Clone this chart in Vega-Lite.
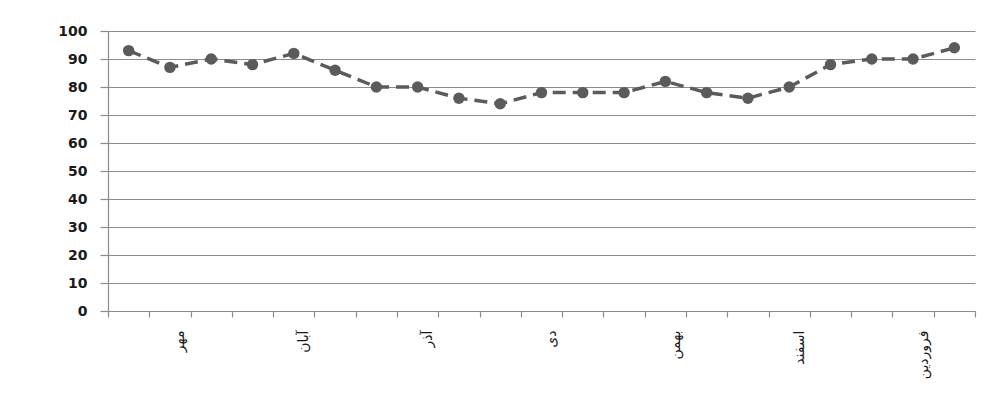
{
  "$schema": "https://vega.github.io/schema/vega-lite/v6.json",
  "autosize": "none",
  "width": 867,
  "height": 280,
  "padding": {"left": 108, "top": 31, "right": 22, "bottom": 94},
  "background": "white",
  "config": {
    "view": {"stroke": null},
    "axis": {"labelFont": "DejaVu Sans", "labelColor": "#1a1a1a", "domainColor": "#8c8c8c", "tickColor": "#8c8c8c", "gridColor": "#8c8c8c", "gridWidth": 1, "domainWidth": 1.2, "tickWidth": 1.2}
  },
  "data": {
    "values": [
      {"i": 0, "v": 93}, {"i": 1, "v": 87}, {"i": 2, "v": 90}, {"i": 3, "v": 88},
      {"i": 4, "v": 92}, {"i": 5, "v": 86}, {"i": 6, "v": 80}, {"i": 7, "v": 80},
      {"i": 8, "v": 76}, {"i": 9, "v": 74}, {"i": 10, "v": 78}, {"i": 11, "v": 78},
      {"i": 12, "v": 78}, {"i": 13, "v": 82}, {"i": 14, "v": 78}, {"i": 15, "v": 76},
      {"i": 16, "v": 80}, {"i": 17, "v": 88}, {"i": 18, "v": 90}, {"i": 19, "v": 90},
      {"i": 20, "v": 94}
    ]
  },
  "encoding": {
    "x": {
      "field": "i",
      "type": "ordinal",
      "scale": {"type": "band", "paddingInner": 0, "paddingOuter": 0},
      "axis": {
        "title": null,
        "tickBand": "extent",
        "tickSize": 6,
        "grid": false,
        "labelAngle": -90,
        "labelFontSize": 14,
        "labelFont": "DejaVu Sans",
        "labelPadding": 13,
        "labelOffset": 10,
        "labelExpr": "['', 'مهر', '', '', 'آبان', '', '', 'آذر', '', '', 'دی', '', '', 'بهمن', '', '', 'اسفند', '', '', 'فروردین', ''][datum.value]"
      }
    },
    "y": {
      "field": "v",
      "type": "quantitative",
      "scale": {"domain": [0, 100], "nice": false},
      "axis": {
        "title": null,
        "values": [0, 10, 20, 30, 40, 50, 60, 70, 80, 90, 100],
        "tickSize": 8,
        "labelFontSize": 14,
        "labelFontWeight": "bold",
        "labelPadding": 13,
        "grid": true
      }
    }
  },
  "layer": [
    {"mark": {"type": "line", "color": "#5b5b5b", "strokeWidth": 3.5, "strokeDash": [13, 7]}},
    {"mark": {"type": "point", "filled": true, "color": "#5b5b5b", "opacity": 1, "size": 130}}
  ]
}
